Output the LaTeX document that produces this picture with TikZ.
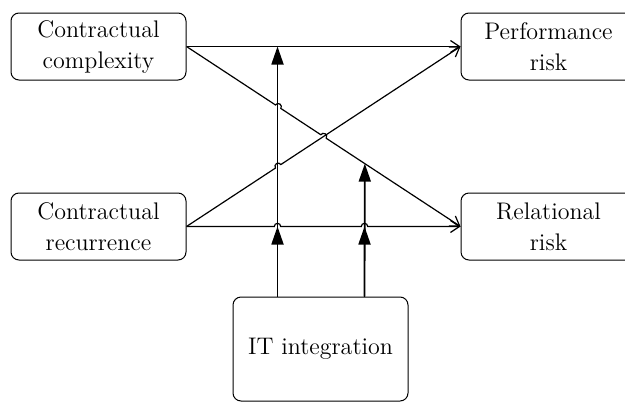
\documentclass[tikz,border=0pt]{standalone}
\usepackage{tikz}
\usetikzlibrary{calc, arrows.meta}

\tikzset{
  box/.style={draw, rounded corners=4pt, line width=0.5pt, align=center, inner sep=0pt,
    minimum width=87.5pt, minimum height=33.5pt, font=\fontsize{12}{15.5}\selectfont},
  link/.style={line width=0.6pt, -{Straight Barb[length=4.5pt,width=6pt]}},
  modarrow/.style={line width=0.9pt, -{Triangle[length=9pt,width=6pt]}},
}

\begin{document}
\begin{tikzpicture}[x=0.5pt, y=0.5pt]
\useasboundingbox (0,0) rectangle (625,403);

% Constructs
\node[box] (cc) at (98.5,356.5) {Contractual\\complexity};
\node[box] (cr) at (98.5,176.5) {Contractual\\recurrence};
\node[box] (pr) at (548.5,356.5) {Performance\\risk};
\node[box] (rr) at (548.5,176.5) {Relational\\risk};
\node[box, minimum height=52pt] (it) at (320.5,54) {IT integration};

% Feet of the moderator arrows
\coordinate (m1) at ($(it.north west)+(45,0)$);
\coordinate (m2) at ($(it.north west)+(132,0)$);

% Hop points on the diagonals
\coordinate (h1) at ($(cc.east)!0.3345!(rr.west)$);
\coordinate (h2) at ($(cc.east)!0.5!(rr.west)$);
\coordinate (h3) at ($(cr.east)!0.3345!(pr.west)$);
\coordinate (t2) at ($(cc.east)!0.6509!(rr.west)$);

% Direct effects
\draw[link] (cc.east) -- (pr.west);
\draw[link] (cc.east) -- ($(h1)!1.6pt!(cc.east)$) arc[start angle=146.8, end angle=-33.2, radius=1.6pt]
  -- ($(h2)!1.6pt!(cc.east)$) arc[start angle=146.8, end angle=-33.2, radius=1.6pt] -- (rr.west);
\draw[link] (cr.east) -- ($(h3)!1.6pt!(cr.east)$) arc[start angle=213.2, end angle=33.2, radius=1.6pt] -- (pr.west);
\draw[link] (cr.east) -- ($(cr.east -| m1)+(-1.6pt,0)$) arc[start angle=180, end angle=0, radius=1.6pt]
  -- ($(cr.east -| m2)+(-1.6pt,0)$) arc[start angle=180, end angle=0, radius=1.6pt] -- (rr.west);

% Moderation by IT integration
\draw[modarrow] (m1) -- (cc.east -| m1);
\draw[modarrow] (m1) -- (cr.east -| m1);
\draw[modarrow] (m2) -- (cr.east -| m2);
\draw[modarrow] (m2) -- (t2);
\end{tikzpicture}
\end{document}
